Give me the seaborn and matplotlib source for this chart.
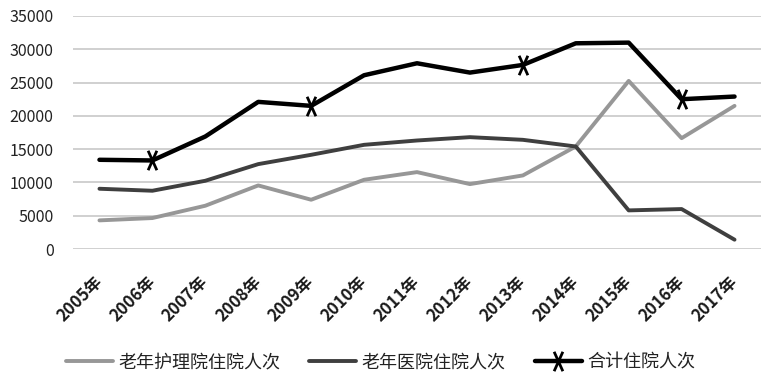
import matplotlib
matplotlib.use("Agg")
import matplotlib.pyplot as plt
from matplotlib.path import Path
import seaborn as sb
import pandas as pd

# 数据
years = ['2005年', '2006年', '2007年', '2008年', '2009年', '2010年', '2011年',
         '2012年', '2013年', '2014年', '2015年', '2016年', '2017年']
nursing = [4300, 4650, 6500, 9550, 7400, 10400, 11550, 9750, 11050, 15400, 25250, 16650, 21500]
medical = [9050, 8750, 10250, 12750, 14150, 15650, 16300, 16800, 16400, 15400, 5800, 6000, 1400]
total = [13400, 13300, 16900, 22100, 21500, 26100, 27900, 26500, 27650, 30900, 31000, 22500, 22900]
names = ['老年护理院住院人次', '老年医院住院人次', '合计住院人次']

df = pd.DataFrame({'year': years, names[0]: nursing, names[1]: medical, names[2]: total})
df['x'] = range(len(years))

sb.set_style('white')
plt.rcParams['font.family'] = ['Noto Sans CJK SC', 'DejaVu Sans']

fig = plt.figure(figsize=(7.61, 3.83), dpi=100)
ax = fig.add_axes([73 / 761, 1 - 249 / 383, 1 - 73 / 761, 233 / 383])

# 高瘦的 X 形标记
xmark = Path([(-0.45, -1), (0.45, 1), (-0.45, 1), (0.45, -1)],
             [Path.MOVETO, Path.LINETO, Path.MOVETO, Path.LINETO])

sb.lineplot(data=df, x='x', y=names[0], ax=ax, color='#979797', linewidth=2.8, label=names[0])
sb.lineplot(data=df, x='x', y=names[1], ax=ax, color='#3f3f3f', linewidth=2.8, label=names[1])
sb.lineplot(data=df, x='x', y=names[2], ax=ax, color='#000000', linewidth=3.2, label=names[2],
            marker=xmark, markersize=14, markeredgewidth=2.0, markeredgecolor='black',
            markerfacecolor='none', markevery=[1, 4, 8, 11])

ax.set_ylim(0, 35000)
ax.set_xlim(-0.5, 12.5)
ax.set_yticks(range(0, 35001, 5000))
ax.set_xticks(df['x'])
ax.set_xticklabels(years, rotation=45, ha='right', va='center', rotation_mode='anchor',
                   fontsize=12, fontweight='bold', color='#1a1a1a')
ax.tick_params(axis='y', labelsize=11.5, colors='#222222', length=0, pad=14)
ax.tick_params(axis='x', length=0, pad=22)
ax.yaxis.grid(True, color='#c8c8c8', linewidth=1.2)
ax.set_xlabel('')
ax.set_ylabel('')
for s in ax.spines.values():
    s.set_visible(False)

handles, labels = ax.get_legend_handles_labels()
ax.get_legend().remove()
fig.legend(handles, labels, loc='center', bbox_to_anchor=(0.5, 1 - 362 / 383),
           ncol=3, frameon=False, fontsize=13, handlelength=2.6, columnspacing=1.6,
           handletextpad=0.3, labelcolor='#222222')

fig.savefig('out.png', dpi=100)
